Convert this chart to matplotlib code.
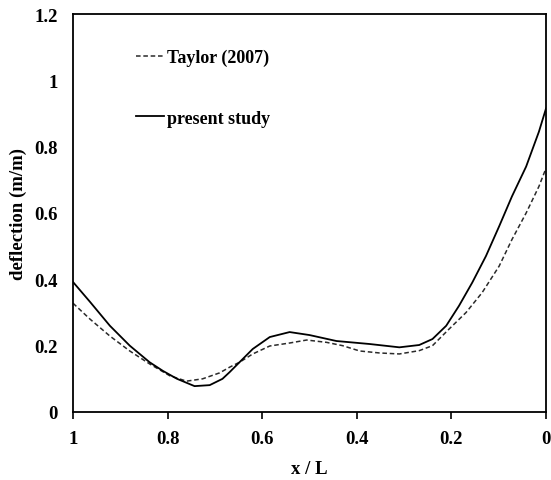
import numpy as np
import matplotlib
matplotlib.use('Agg')
import matplotlib.pyplot as plt

# --- data ---
x_taylor = [1.0, 0.964, 0.922, 0.88, 0.838, 0.795, 0.76, 0.726, 0.69, 0.669, 0.648, 0.62,
            0.584, 0.542, 0.506, 0.464, 0.43, 0.394, 0.352, 0.31, 0.268, 0.24, 0.205,
            0.169, 0.135, 0.099, 0.072, 0.042, 0.015, 0.0]
y_taylor = [0.328, 0.280, 0.229, 0.184, 0.145, 0.109, 0.093, 0.100, 0.118, 0.135, 0.150, 0.175,
            0.199, 0.208, 0.217, 0.210, 0.200, 0.184, 0.178, 0.175, 0.185, 0.200, 0.250,
            0.300, 0.360, 0.440, 0.520, 0.600, 0.680, 0.735]

x_present = [1.0, 0.964, 0.922, 0.88, 0.838, 0.81, 0.78, 0.743, 0.711, 0.684, 0.669, 0.648,
             0.62, 0.584, 0.542, 0.50, 0.443, 0.373, 0.31, 0.268, 0.24, 0.211, 0.184,
             0.156, 0.127, 0.099, 0.072, 0.042, 0.015, 0.0]
y_present = [0.392, 0.332, 0.260, 0.200, 0.150, 0.124, 0.100, 0.078, 0.081, 0.100, 0.120, 0.150,
             0.190, 0.226, 0.241, 0.232, 0.214, 0.205, 0.195, 0.202, 0.220, 0.260, 0.320,
             0.390, 0.470, 0.560, 0.650, 0.740, 0.845, 0.915]

x_ticks = [1, 0.8, 0.6, 0.4, 0.2, 0]
y_ticks = [0, 0.2, 0.4, 0.6, 0.8, 1, 1.2]

plt.rcParams['font.family'] = ['Liberation Serif', 'DejaVu Serif']
plt.rcParams['font.weight'] = 'bold'

fig = plt.figure(figsize=(5.51, 4.81), dpi=100)
ax = fig.add_axes([73 / 551, 68 / 481, 473 / 551, 398 / 481])

ax.plot(x_taylor, y_taylor, color='#2a2a2a', linewidth=1.1, linestyle=(0, (3, 1.8)),
        label='Taylor (2007)')
ax.plot(x_present, y_present, color='black', linewidth=1.3, label='present study')

ax.set_xlim(1, 0)
ax.set_ylim(0, 1.2)
ax.set_xticks(x_ticks)
ax.set_xticklabels([f'{v:g}' for v in x_ticks])
ax.set_yticks(y_ticks)
ax.set_yticklabels([f'{v:g}' for v in y_ticks])
ax.tick_params(axis='x', direction='out', length=5, width=1.2, labelsize=13.5, pad=8)
ax.tick_params(axis='y', length=0, labelsize=13.5, pad=11)
for spine in ax.spines.values():
    spine.set_linewidth(1.3)

ax.set_xlabel('x / L', fontsize=13.5, fontweight='bold', labelpad=9)
ax.set_ylabel('deflection (m/m)', fontsize=13.5, fontweight='bold', labelpad=5)

leg = ax.legend(loc='upper left', bbox_to_anchor=(0.117, 0.93), frameon=False,
                fontsize=13, handlelength=1.6, handletextpad=0.15, labelspacing=2.4,
                borderaxespad=0)
for t in leg.get_texts():
    t.set_fontweight('bold')

fig.savefig('out.png', dpi=100)
